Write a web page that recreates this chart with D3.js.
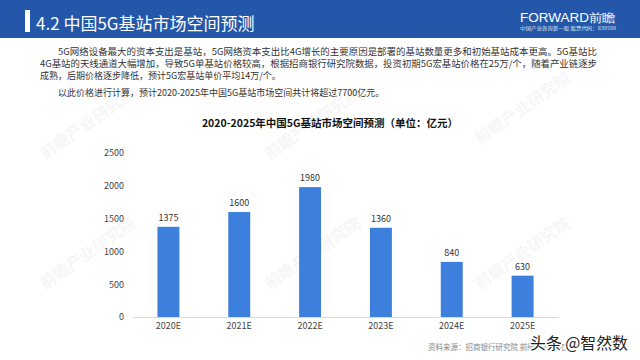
<!DOCTYPE html>
<html><head><meta charset="utf-8">
<script src="https://cdn.jsdelivr.net/npm/d3@7"></script>
<style>body{margin:0;background:#fff}svg{display:block}</style>
</head><body>
<svg id="c" width="640" height="360"></svg>
<script>
const categories = ["2020E","2021E","2022E","2023E","2024E","2025E"];
const values = [1375,1600,1980,1360,840,630];
const yTicks = [0,500,1000,1500,2000,2500];
const headerTitle = "4.2 中国5G基站市场空间预测";
const chartTitle = "2020-2025年中国5G基站市场空间预测（单位：亿元）";
const bodyLines = [
  "5G网络设备最大的资本支出是基站，5G网络资本支出比4G增长的主要原因是部署的基站数量更多和初始基站成本更高。5G基站比",
  "4G基站的天线通道大幅增加，导致5G单基站价格较高，根据招商银行研究院数据，投资初期5G宏基站价格在25万/个，随着产业链逐步",
  "成熟，后期价格逐步降低，预计5G宏基站单价平均14万/个。",
  "以此价格进行计算，预计2020-2025年中国5G基站市场空间共计将超过7700亿元。"
];
const sourceText = "资料来源：招商银行研究院 前瞻产业研究院";

const svg = d3.select("#c");
const font = "'Noto Sans CJK SC', 'Noto Sans', sans-serif";

// header
svg.append("rect").attr("x",0).attr("y",0).attr("width",640).attr("height",38).attr("fill","#2456a9");
svg.append("rect").attr("x",25).attr("y",10).attr("width",5).attr("height",22).attr("fill","#fff");
svg.append("text").attr("x",36).attr("y",30).attr("fill","#fff").attr("font-family",font)
  .attr("font-size",17).text(headerTitle);
// logo
svg.append("text").attr("x",520).attr("y",22).attr("fill","#fff").attr("font-family","'Liberation Sans', Arial, sans-serif")
  .attr("font-size",12).attr("textLength",96).attr("lengthAdjust","spacingAndGlyphs").text("FORWARD前瞻");
svg.append("text").attr("x",520).attr("y",30).attr("fill","#dfe7f5").attr("font-family",font)
  .attr("font-size",4.5).attr("textLength",96).attr("lengthAdjust","spacingAndGlyphs").text("中国产业咨询第一股  股票代码：839599");

// body text
const bx = [58,40,40,58], by = [55,67,79,96];
bodyLines.forEach((t,i)=>{
  const el = svg.append("text").attr("x",bx[i]).attr("y",by[i]).attr("fill","#333").attr("font-family",font)
    .attr("font-size",9).text(t);
  if(i<2) el.attr("textLength",597-bx[i]).attr("lengthAdjust","spacingAndGlyphs");
});

// chart title
svg.append("text").attr("x",330).attr("y",127).attr("text-anchor","middle").attr("font-family",font)
  .attr("font-weight","bold").attr("font-size",10.5).attr("fill","#111").text(chartTitle);

// faint watermarks
const wm = [[45,160],[270,160],[480,145],[45,290],[270,290],[480,290]];
wm.forEach(([x,y])=>{
  svg.append("text").attr("x",x).attr("y",y).attr("transform",`rotate(-35,${x},${y})`)
    .attr("font-family",font).attr("font-size",16).attr("font-weight","bold").attr("fill","#000").attr("opacity",0.03)
    .text("前瞻产业研究院");
});

const x = d3.scaleBand().domain(categories).range([133,558]).paddingInner(0.69).paddingOuter(0.345);
const y = d3.scaleLinear().domain([0,2500]).range([317,153]);

svg.append("g").selectAll("rect").data(values).join("rect")
  .attr("x",(d,i)=>x(categories[i])).attr("width",x.bandwidth())
  .attr("y",d=>y(d)).attr("height",d=>y(0)-y(d)).attr("fill","#3d7fdc");

svg.append("g").selectAll("text").data(values).join("text")
  .attr("x",(d,i)=>x(categories[i])+x.bandwidth()/2).attr("y",d=>y(d)-6)
  .attr("text-anchor","middle").attr("font-family",font).attr("font-size",9).attr("fill","#333").text(d=>d);

const yAxis = svg.append("g").attr("transform","translate(124,0)")
  .call(d3.axisLeft(y).tickValues(yTicks).tickFormat(d3.format("d")).tickSize(0).tickPadding(0));
yAxis.select(".domain").remove();
yAxis.selectAll("text").attr("font-family",font).attr("font-size",9).attr("fill","#444");

const xAxis = svg.append("g").attr("transform","translate(0,317)")
  .call(d3.axisBottom(x).tickSize(0).tickPadding(6));
xAxis.select(".domain").attr("stroke","#d9d9d9");
xAxis.selectAll("text").attr("font-family",font).attr("font-size",9).attr("fill","#444");

// source
svg.append("text").attr("x",428).attr("y",350).attr("font-family",font).attr("font-size",7.5).attr("fill","#888").text(sourceText);
// overlay watermark
svg.append("text").attr("x",530).attr("y",349).attr("font-family",font).attr("font-size",16)
  .attr("fill","#222").attr("stroke","#fff").attr("stroke-width",3).attr("paint-order","stroke")
  .attr("textLength",98).attr("lengthAdjust","spacingAndGlyphs").text("头条 @智然数");
</script>
</body></html>
